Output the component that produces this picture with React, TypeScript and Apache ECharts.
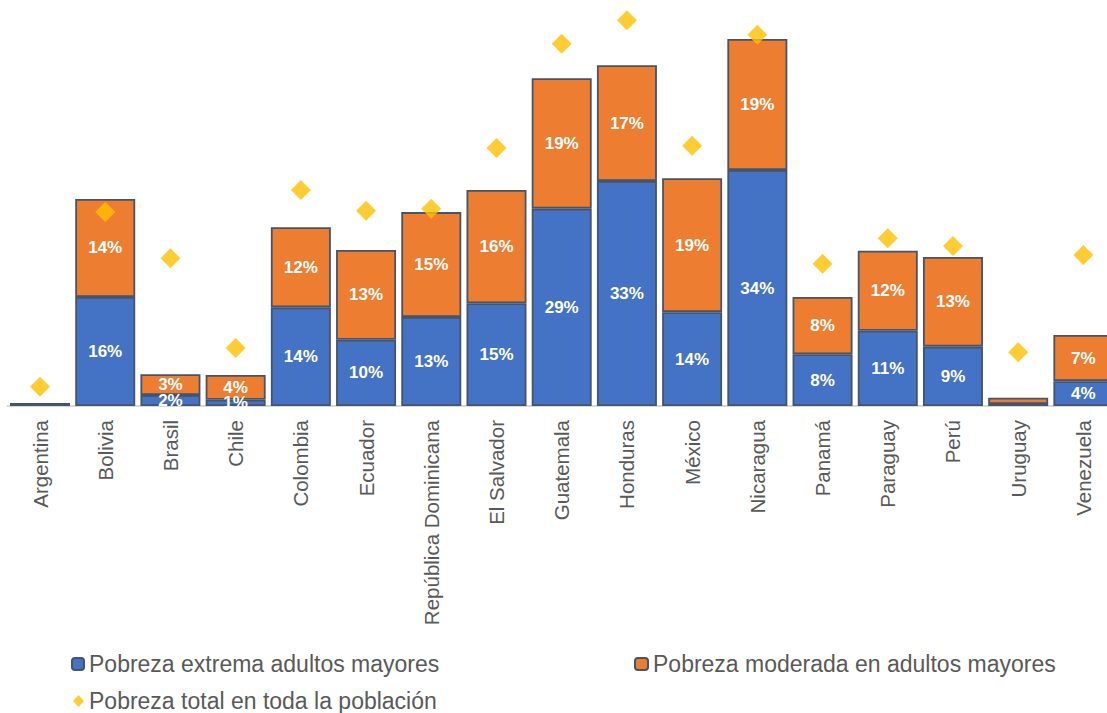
import React, { useEffect, useRef } from "react";
import * as echarts from "echarts";

const categories = [
  "Argentina", "Bolivia", "Brasil", "Chile", "Colombia", "Ecuador",
  "República Dominicana", "El Salvador", "Guatemala", "Honduras", "México",
  "Nicaragua", "Panamá", "Paraguay", "Perú", "Uruguay", "Venezuela",
];
const extrema = [0.3, 15.8, 1.6, 0.9, 14.3, 9.6, 12.9, 14.9, 28.6, 32.6, 13.6, 34.2, 7.5, 10.9, 8.6, 0.3, 3.6];
const moderada = [0.0, 14.2, 3.0, 3.6, 11.6, 13.0, 15.2, 16.4, 18.9, 16.8, 19.4, 19.0, 8.3, 11.6, 13.0, 0.9, 6.7];
const total = [2.8, 28.1, 21.4, 8.4, 31.3, 28.3, 28.6, 37.4, 52.5, 55.9, 37.7, 53.8, 20.6, 24.3, 23.2, 7.8, 21.9];

const names = [
  "Pobreza extrema adultos mayores",
  "Pobreza moderada en adultos mayores",
  "Pobreza total en toda la población",
];

const FONT = "'Liberation Sans', Arial, sans-serif";

export default function App() {
  const ref = useRef<HTMLDivElement>(null);
  useEffect(() => {
    document.body.style.margin = "0";
    document.body.style.overflow = "hidden";
    const chart = echarts.init(ref.current!, null, { renderer: "svg" });
    const hide = (i: number) => extrema[i] + moderada[i] < 2;
    const barData = (arr: number[]) =>
      arr.map((v, i) => (hide(i) ? { value: v, label: { show: false } } : { value: v }));
    const barLabel = {
      show: true,
      position: "inside",
      color: "#ffffff",
      fontWeight: "bold",
      fontSize: 17,
      fontFamily: FONT,
      formatter: (p: any) => Math.round(p.value) + "%",
    };
    const legendText = { fontSize: 23, color: "#595959", fontFamily: FONT, lineHeight: 24 };
    chart.setOption({
      animation: false,
      backgroundColor: "#ffffff",
      grid: { left: 7.4, right: 0, top: 5.8, bottom: 307, containLabel: false },
      xAxis: {
        type: "category",
        data: categories,
        axisLine: { show: true, lineStyle: { color: "#d9d9d9", width: 2 } },
        axisTick: { show: false },
        axisLabel: {
          rotate: 90,
          interval: 0,
          margin: 14,
          fontSize: 20.5,
          color: "#595959",
          fontFamily: FONT,
        },
      },
      yAxis: {
        type: "value",
        min: 0,
        max: 58,
        show: false,
        splitLine: { show: false },
      },
      legend: [
        {
          data: [names[0]],
          left: 71,
          top: 652,
          padding: 0,
          itemWidth: 12,
          itemHeight: 12,
          textStyle: legendText,
        },
        {
          data: [names[1]],
          left: 634,
          top: 652,
          padding: 0,
          itemWidth: 13,
          itemHeight: 12,
          textStyle: legendText,
        },
        {
          data: [{ name: names[2], icon: "diamond" }],
          left: 73,
          top: 689,
          padding: 0,
          itemWidth: 11,
          itemHeight: 12,
          textStyle: legendText,
        },
      ],
      series: [
        {
          name: names[0],
          type: "bar",
          stack: "a",
          data: barData(extrema),
          barCategoryGap: "8%",
          itemStyle: { color: "#4472C4", borderColor: "#44546A", borderWidth: 1.8 },
          label: barLabel,
        },
        {
          name: names[1],
          type: "bar",
          stack: "a",
          data: barData(moderada),
          barCategoryGap: "8%",
          itemStyle: { color: "#ED7D31", borderColor: "#44546A", borderWidth: 1.8 },
          label: barLabel,
        },
        {
          name: names[2],
          type: "scatter",
          data: total,
          symbol: "diamond",
          symbolSize: 20,
          itemStyle: { color: "#FFC000" },
          z: 5,
        },
      ],
    });
    return () => chart.dispose();
  }, []);
  return <div ref={ref} style={{ width: 1116, height: 713 }} />;
}
